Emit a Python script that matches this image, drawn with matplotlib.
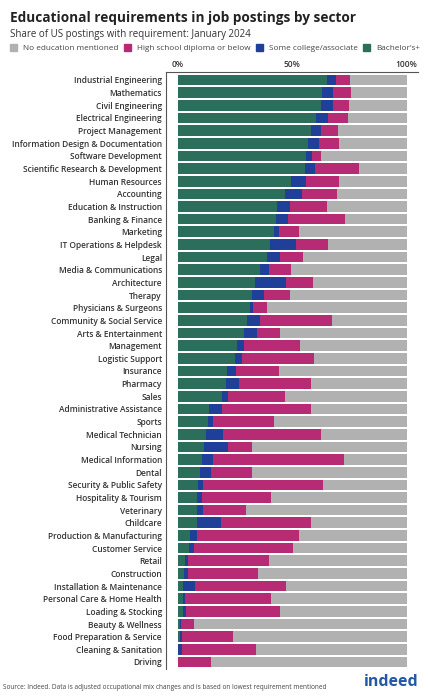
import numpy as np
import matplotlib
matplotlib.use('Agg')
import matplotlib.pyplot as plt
from matplotlib.patches import Patch

plt.rcParams['font.family'] = ['Open Sans', 'DejaVu Sans']

sectors = ['Industrial Engineering', 'Mathematics', 'Civil Engineering', 'Electrical Engineering',
           'Project Management', 'Information Design & Documentation', 'Software Development',
           'Scientific Research & Development', 'Human Resources', 'Accounting',
           'Education & Instruction', 'Banking & Finance', 'Marketing', 'IT Operations & Helpdesk',
           'Legal', 'Media & Communications', 'Architecture', 'Therapy', 'Physicians & Surgeons',
           'Community & Social Service', 'Arts & Entertainment', 'Management', 'Logistic Support',
           'Insurance', 'Pharmacy', 'Sales', 'Administrative Assistance', 'Sports',
           'Medical Technician', 'Nursing', 'Medical Information', 'Dental',
           'Security & Public Safety', 'Hospitality & Tourism', 'Veterinary', 'Childcare',
           'Production & Manufacturing', 'Customer Service', 'Retail', 'Construction',
           'Installation & Maintenance', 'Personal Care & Home Health', 'Loading & Stocking',
           'Beauty & Wellness', 'Food Preparation & Service', 'Cleaning & Sanitation', 'Driving']

# shares in % of postings
bachelors = [65.1, 63.2, 62.4, 60.6, 58.3, 56.8, 56.0, 55.8, 49.3, 46.8,
             43.3, 42.9, 41.9, 40.3, 39.1, 35.9, 34.0, 32.7, 31.7, 30.1,
             29.2, 26.0, 24.9, 21.8, 21.2, 19.3, 13.8, 13.2, 12.5, 11.6,
             10.5, 9.7, 9.0, 8.7, 8.6, 8.3, 5.5, 4.8, 3.3, 2.9,
             2.6, 2.6, 2.5, 1.2, 1.0, 0.3, 0.0]
some_college = [3.9, 4.8, 5.3, 5.1, 4.2, 5.0, 2.6, 4.4, 6.7, 7.3,
                5.8, 5.2, 2.4, 11.4, 5.7, 3.9, 13.5, 4.9, 1.3, 5.7,
                5.4, 2.8, 3.3, 3.6, 5.7, 2.6, 5.4, 2.4, 7.4, 10.3,
                4.8, 5.1, 2.3, 1.9, 2.3, 10.7, 3.2, 2.2, 1.1, 1.5,
                5.1, 0.7, 1.3, 0.4, 0.9, 1.7, 0.1]
high_school = [6.1, 7.9, 7.3, 8.6, 7.4, 8.8, 4.2, 19.0, 14.6, 15.4,
               16.2, 25.0, 8.9, 13.9, 10.0, 9.9, 11.7, 11.4, 6.2, 31.5,
               10.2, 24.5, 31.5, 18.9, 31.5, 25.0, 39.1, 26.6, 42.9, 10.8,
               57.5, 17.6, 52.1, 30.1, 19.0, 39.3, 44.1, 43.4, 35.3, 30.6,
               39.5, 37.3, 41.1, 5.8, 22.2, 32.4, 14.7]
no_mention = [100 - a - b - c for a, b, c in zip(bachelors, some_college, high_school)]

c_ba = '#2b6e5b'
c_sc = '#1f3f98'
c_hs = '#b72a74'
c_no = '#b1b1b1'

fig = plt.figure(figsize=(4.28, 6.99), dpi=100)
ax = fig.add_axes([0.388, 0.043, 0.589, 0.854])

y = np.arange(len(sectors))
left = np.zeros(len(sectors))
for vals, col in [(bachelors, c_ba), (some_college, c_sc), (high_school, c_hs), (no_mention, c_no)]:
    ax.barh(y, vals, left=left, color=col, height=0.84, linewidth=0)
    left += np.array(vals)

ax.set_xlim(-5, 105)
ax.set_ylim(46.55, -0.63)
ax.set_yticks(y)
ax.set_yticklabels(sectors, fontsize=6.0, fontweight='semibold', color='#333333')
ax.set_xticks([0, 50, 100])
ax.set_xticklabels(['0%', '50%', '100%'], fontsize=6.0, fontweight='semibold', color='#333333')
ax.xaxis.tick_top()
ax.tick_params(axis='both', length=0, pad=3)
ax.tick_params(axis='x', pad=2)
for s in ['right', 'bottom']:
    ax.spines[s].set_visible(False)
ax.spines['top'].set_color('#555555')
ax.spines['left'].set_color('#555555')
ax.spines['top'].set_linewidth(0.8)
ax.spines['left'].set_linewidth(0.8)

fig.text(0.023, 0.974, 'Educational requirements in job postings by sector', fontsize=9.8,
         fontweight='bold', color='#222222', va='center')
fig.text(0.023, 0.950, 'Share of US postings with requirement: January 2024', fontsize=7.0,
         color='#333333', va='center')

handles = [Patch(color=c_no), Patch(color=c_hs), Patch(color=c_sc), Patch(color=c_ba)]
labels = ['No education mentioned', 'High school diploma or below', 'Some college/associate', "Bachelor's+"]
fig.legend(handles, labels, loc='center left', bbox_to_anchor=(0.016, 0.931), ncol=4, frameon=False,
           fontsize=5.9, handlelength=0.85, handleheight=0.85, handletextpad=0.7,
           columnspacing=0.7, borderaxespad=0, labelcolor='#444444')

fig.text(0.008, 0.017, 'Source: Indeed. Data is adjusted occupational mix changes and is based on lowest requirement mentioned',
         fontsize=4.7, color='#444444', va='center')
fig.text(0.977, 0.024, 'indeed', fontsize=11.5, fontweight='bold', color='#2557a7', ha='right', va='center')

fig.savefig('out.png', dpi=100, facecolor='white')
